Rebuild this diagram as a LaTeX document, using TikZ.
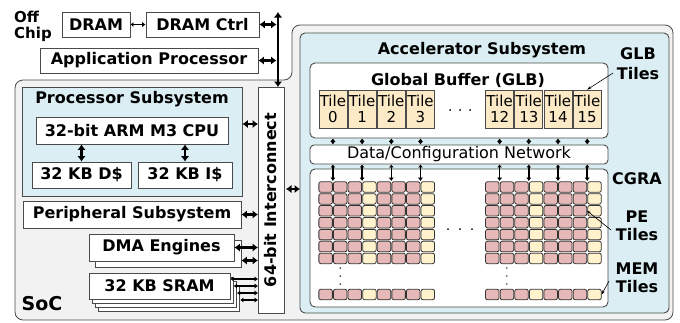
\documentclass[tikz,border=0pt]{standalone}
\usepackage{fontspec}
\setmainfont{DejaVu Sans}
\usetikzlibrary{arrows.meta}

\definecolor{socgray}{HTML}{F2F2F2}
\definecolor{subblue}{HTML}{DAEEF3}
\definecolor{pepink}{HTML}{E6B9B8}
\definecolor{memyellow}{HTML}{FFF2CC}
\definecolor{glbtan}{HTML}{FCE9C6}
\definecolor{edge}{HTML}{4A4A4A}

\begin{document}
\begin{tikzpicture}[x=1pt,y=-1pt,
    box/.style={draw=edge,line width=0.9pt,fill=white,inner sep=0pt,font=\fontsize{16}{18}\selectfont\bfseries},
    sub/.style={box,fill=subblue},
    panel/.style={draw=edge,line width=0.9pt,fill=white,rounded corners=5pt,inner sep=0pt},
    tile/.style={draw=edge,line width=0.8pt,fill=glbtan,minimum width=28pt,minimum height=38pt,inner sep=0pt,align=center,font=\fontsize{15}{15.5}\selectfont},
    cell/.style={draw=black!80,line width=0.8pt,rounded corners=2pt,minimum width=13.5pt,minimum height=10.5pt,inner sep=0pt},
    bus/.style={{Latex[length=5.5pt,width=8.5pt]}-{Latex[length=5.5pt,width=8.5pt]},line width=2.8pt},
    link/.style={{Latex[length=3pt,width=5pt]}-{Latex[length=3.5pt,width=5.5pt]},line width=1.5pt},
    lead/.style={-{Stealth[length=4pt,width=3pt]},line width=0.6pt},
    lbl/.style={font=\fontsize{16}{17.5}\selectfont\bfseries,align=center,inner sep=0pt}]
  \useasboundingbox (0,0) rectangle (680,322);

  % SoC outline
  \draw[draw=edge,line width=0.8pt,fill=socgray,rounded corners=8pt]
    (15,80) -- (292,80) -- (292,25) -- (673,25) -- (673,320) -- (15,320) -- cycle;
  \node[lbl,font=\fontsize{19}{20}\selectfont\bfseries] (soc) at (42,304) {SoC};

  % off chip
  \node[lbl,align=left,anchor=west,font=\fontsize{15}{16}\selectfont\bfseries] (offchip) at (14,26) {Off\\Chip};
  \node[box,minimum width=68pt,minimum height=25pt] (dram) at (96,24.5) {DRAM};
  \node[box,minimum width=113pt,minimum height=25pt] (ctrl) at (202.5,24.5) {DRAM Ctrl};
  \node[box,minimum width=218pt,minimum height=25pt] (ap) at (149,60.5) {Application Processor};

  % interconnect
  \node[box,rotate=90,minimum width=226pt,minimum height=26pt] (ic) at (271,200) {64-bit Interconnect};
  \coordinate (icw) at (258,200);
  \coordinate (ice) at (284,189);
  \coordinate (bustop) at (278,12);
  \coordinate (busbot) at (278,87);

  % processor side
  \node[sub,minimum width=220pt,minimum height=109pt] (ps) at (132,141.5) {};
  \node[lbl] (pstitle) at (132,99) {Processor Subsystem};
  \node[box,minimum width=192pt,minimum height=27pt] (cpu) at (132,130.5) {32-bit ARM M3 CPU};
  \node[box,minimum width=99pt,minimum height=26pt] (dcache) at (81.5,175) {32 KB D\$};
  \node[box,minimum width=94pt,minimum height=26pt] (icache) at (185,175) {32 KB I\$};
  \node[box,minimum width=218pt,minimum height=27pt] (per) at (132,214.5) {Peripheral Subsystem};
  \node[box,minimum width=146pt,minimum height=27pt] (dma2) at (168,253.5) {};
  \node[box,minimum width=145pt,minimum height=27pt] (dma) at (161.5,247.5) {DMA Engines};
  \foreach \k in {3,2,1}
    \node[box,minimum width=141pt,minimum height=26pt] (sram\k) at (159.5+3.3*\k,286+4*\k) {};
  \node[box,minimum width=141pt,minimum height=26pt] (sram0) at (159.5,286) {32 KB SRAM};

  \draw[bus] (bustop) -- (busbot);
  \draw[link] (dram) -- (ctrl);
  \draw[bus,shorten >=1.5pt] (ctrl.east) -- (ctrl.east -| bustop);
  \draw[bus,shorten >=1.5pt] (ap.east) -- (ap.east -| bustop);
  \draw[bus] ([yshift=6.5pt]ps.east |- cpu) -- ([yshift=6.5pt]icw |- cpu);
  \draw[bus] (cpu.south -| dcache) -- (dcache.north);
  \draw[bus] (cpu.south -| icache) -- (icache.north);
  \draw[bus] (per.east) -- (icw |- per);
  \draw[bus] (dma.east) -- (icw |- dma);
  \draw[bus] ([yshift=-7pt]dma2.east) -- ([yshift=-7pt]icw |- dma2);
  \foreach \k/\s in {0/7,1/4,2/1,3/-2}
    \draw[link] ([yshift=\s pt]sram\k.east) -- ([yshift=\s pt]icw |- sram\k);
  \draw[bus,shorten <=2pt] (ice) -- (ice -| 300,0);

  % accelerator
  \node[panel,fill=subblue,minimum width=369pt,minimum height=280pt] (acc) at (484.5,173) {};
  \node[lbl] (acctitle) at (482,50) {Accelerator Subsystem};
  \node[lbl,font=\fontsize{16}{20}\selectfont\bfseries] (glblbl) at (638,64) {GLB\\Tiles};
  \node[lbl] (cgralbl) at (637,179) {CGRA};
  \node[lbl] (pelbl) at (637,226) {PE\\Tiles};
  \node[lbl] (memlbl) at (637,278) {MEM\\Tiles};

  \node[panel,minimum width=298pt,minimum height=75pt] (glb) at (459,100.5) {};
  \node[lbl] (glbtitle) at (458,80) {Global Buffer (GLB)};
  \foreach \i in {0,...,3}
    \node[tile] (t\i) at (318.3+29.2*\i+14.6,109) {Tile\\\i};
  \foreach \i in {12,...,15}
    \node[tile] (t\i) at (485+29.2*\i-350.4+14.6,109) {Tile\\\i};
  \foreach \x in {450,460,470} \fill (\x,110) circle (1pt);

  \node[panel,rounded corners=4pt,minimum width=298pt,minimum height=19pt,font=\fontsize{16}{18}\selectfont] (net) at (459,154.5) {Data/Configuration Network};
  \node[panel,minimum width=298pt,minimum height=138pt] (cgra) at (459,238) {};
  \coordinate (cellstop) at (459,181);

  % CGRA tiles
  \foreach \bx/\blk in {318.3/a,485/b}
    \foreach \c/\col in {0/pepink,1/pepink,2/pepink,3/memyellow,4/pepink,5/pepink,6/pepink,7/memyellow} {
      \foreach \r in {0,...,6}
        \node[cell,fill=\col] (\blk\c-\r) at (\bx+14.6*\c+7.3,187+11.9*\r) {};
      \node[cell,fill=\col] (\blk\c-7) at (\bx+14.6*\c+7.3,294.5) {};
    }
  \foreach \x in {448,460,472} \fill (\x,229) circle (1pt);
  \foreach \x in {340.2,506.9}
    \foreach \y in {268,276,284} \fill (\x,\y) circle (0.8pt);

  \foreach \i in {0,1,2,3,12,13,14,15} {
    \draw[link] (t\i.south |- glb.south) -- (t\i.south |- net.north);
    \draw[link] (t\i.south |- net.south) -- (t\i.south |- cellstop);
  }

  % leaders
  \coordinate (glbfrom) at (613,73);
  \coordinate (pefrom) at (611,230);
  \coordinate (memfrom) at (609,281);
  \draw[lead] (glbfrom) -- (t15.north);
  \draw[lead] (pefrom) -- (b6-2.east);
  \draw[lead] (memfrom) -- (b7-7.east);
\end{tikzpicture}
\end{document}
